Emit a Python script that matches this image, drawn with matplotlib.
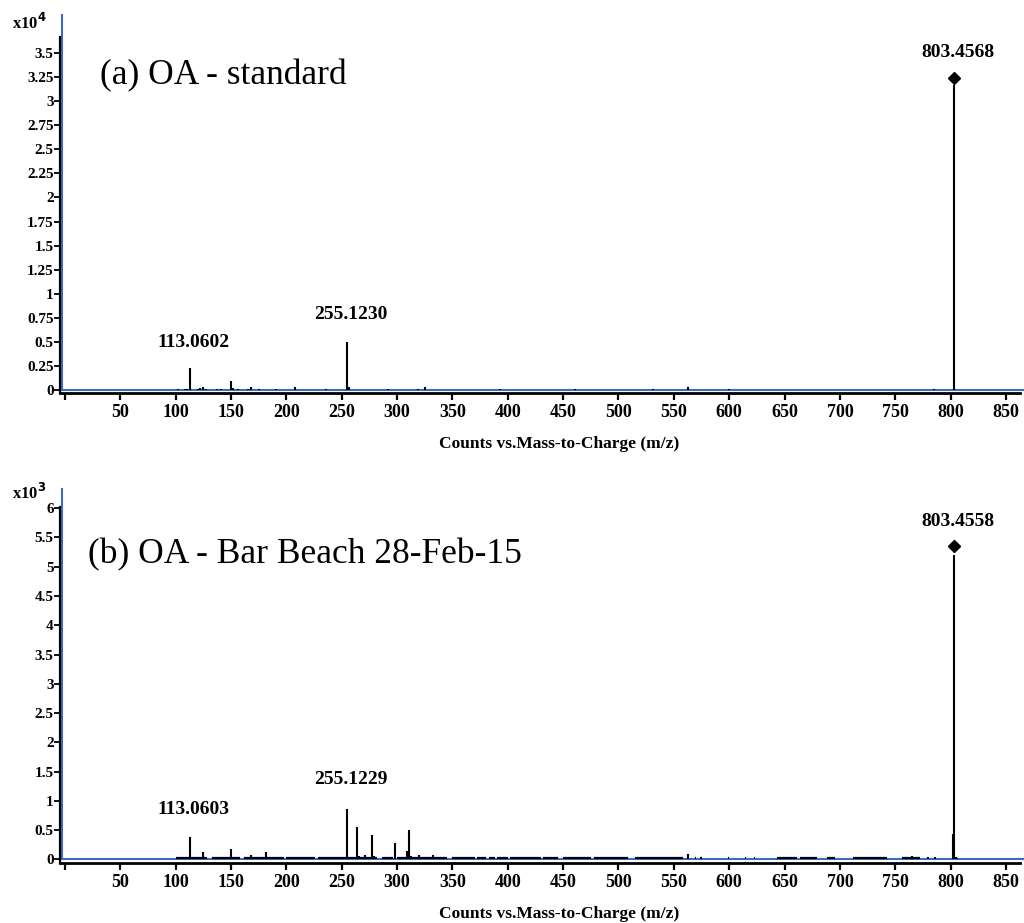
import matplotlib
matplotlib.use("Agg")
import matplotlib.pyplot as plt

plt.rcParams["font.family"] = ["Liberation Serif", "DejaVu Serif"]

# panel (a): standard, intensities in x10^4 counts
mz_std = [102, 108, 110, 113.0602, 120, 122, 125, 127, 137, 141, 150, 152, 156,
          165, 168, 175, 191, 208, 236, 255.1230, 257, 292, 319, 325, 393, 461,
          531, 563, 600, 785, 803.4568]
int_std = [0.012, 0.01, 0.015, 0.23, 0.012, 0.02, 0.03, 0.012, 0.01, 0.015, 0.09,
           0.02, 0.01, 0.01, 0.03, 0.015, 0.015, 0.035, 0.015, 0.50, 0.03, 0.015,
           0.012, 0.03, 0.012, 0.012, 0.012, 0.03, 0.015, 0.015, 3.17]

# panel (b): Bar Beach sample, intensities in x10^3 counts
mz_bb = [113.0603, 125, 127, 150, 168, 182, 190, 208, 255.1229, 264, 266, 271,
         277, 279, 298, 309, 311, 313, 316, 320, 325, 332, 334, 352, 563, 729,
         765, 780, 786, 802, 803.4558, 805, 806]
int_bb = [0.38, 0.12, 0.05, 0.18, 0.08, 0.125, 0.05, 0.045, 0.87, 0.55, 0.06,
          0.08, 0.41, 0.06, 0.29, 0.14, 0.50, 0.06, 0.05, 0.085, 0.05, 0.08,
          0.05, 0.045, 0.09, 0.05, 0.06, 0.05, 0.05, 0.43, 5.20, 0.04, 0.03]
# m/z ranges where panel (b) shows dense baseline noise
noise_start = [100, 133, 162, 200, 229, 286, 300, 350, 372, 383, 390, 402, 432,
               450, 478, 515, 569, 574, 599, 614, 622, 643, 664, 688, 712, 756]
noise_end = [128, 158, 198, 226, 282, 296, 345, 370, 380, 388, 400, 430, 445,
             475, 509, 558, 570, 575, 600, 615, 623, 661, 679, 696, 743, 772]

labels_std = ["113.0602", "255.1230", "803.4568"]
label_x_std = [116, 258, 807]
label_y_std = [0.49, 0.78, 3.51]
labels_bb = ["113.0603", "255.1229", "803.4558"]
label_x_bb = [116, 258, 807]
label_y_bb = [0.85, 1.36, 5.77]

yticks_std = [0, 0.25, 0.5, 0.75, 1, 1.25, 1.5, 1.75, 2, 2.25, 2.5, 2.75, 3, 3.25, 3.5]
yticks_bb = [0, 0.5, 1, 1.5, 2, 2.5, 3, 3.5, 4, 4.5, 5, 5.5, 6]
xticks = list(range(0, 851, 50))

BLUE = "#3b6cc4"

fig = plt.figure(figsize=(10.24, 9.23), dpi=100)
ax_a = fig.add_axes([0.0586, 0.5742, 0.9375, 0.3857])
ax_b = fig.add_axes([0.0586, 0.0650, 0.9375, 0.3857])


def style_axis(ax, ylim, yticks, blue_top, exp_text, title, title_xy):
    ax.set_xlim(-4.5, 862.7)
    ax.set_ylim(*ylim)
    for side in ("top", "right"):
        ax.spines[side].set_visible(False)
    ax.spines["left"].set_linewidth(1.6)
    ax.spines["bottom"].set_linewidth(2.0)
    ax.set_xticks(xticks)
    ax.set_xticklabels([""] + [str(t) for t in xticks[1:]])
    ax.set_yticks(yticks)
    ax.set_yticklabels([f"{t:g}" for t in yticks])
    ax.tick_params(axis="y", direction="out", length=4.5, width=1.3, pad=0,
                   labelsize=11)
    ax.tick_params(axis="x", direction="out", length=5, width=1.6, pad=3,
                   labelsize=13)
    for lab in ax.get_xticklabels() + ax.get_yticklabels():
        lab.set_fontweight("bold")
    ax.set_xlabel("Counts vs.Mass-to-Charge (m/z)", fontsize=12.5,
                  fontweight="bold")
    ax.xaxis.set_label_coords(0.52, -0.122)
    # blue frame lines of the instrument software
    ax.plot([-3, -3], [0, blue_top], color=BLUE, lw=1.5, clip_on=False, zorder=1)
    ax.plot([-3, 870], [0, 0], color=BLUE, lw=1.5, clip_on=False, zorder=1)
    ax.text(-0.05, 1.039, exp_text, transform=ax.transAxes, fontsize=12,
            fontweight="bold", ha="left", va="center")
    ax.text(title_xy[0], title_xy[1], title, fontsize=25.5, ha="left",
            va="center")


style_axis(ax_a, (-0.031, 3.666), yticks_std, 3.894, r"x10$^{\mathbf{4}}$",
           "(a) OA - standard", (31.6, 3.26))
style_axis(ax_b, (-0.06, 6.02), yticks_bb, 6.32, r"x10$^{\mathbf{3}}$",
           "(b) OA - Bar Beach 28-Feb-15", (20.8, 5.2))

ax_a.vlines(mz_std, 0, int_std, color="black", lw=1.5, zorder=3)
ax_a.plot([mz_std[-1]], [3.24], marker="D", color="black", markersize=6.5,
          clip_on=False, zorder=4)
for txt, x, y in zip(labels_std, label_x_std, label_y_std):
    ax_a.text(x, y, txt, ha="center", va="center", fontsize=14,
              fontweight="bold")

ax_b.hlines([0.02] * len(noise_start), noise_start, noise_end, color="black",
            lw=1.6, zorder=2)
ax_b.vlines(mz_bb, 0, int_bb, color="black", lw=1.5, zorder=3)
ax_b.plot([803.4558], [5.35], marker="D", color="black", markersize=6.5,
          clip_on=False, zorder=4)
for txt, x, y in zip(labels_bb, label_x_bb, label_y_bb):
    ax_b.text(x, y, txt, ha="center", va="center", fontsize=14,
              fontweight="bold")

fig.savefig("out.png", dpi=100)
